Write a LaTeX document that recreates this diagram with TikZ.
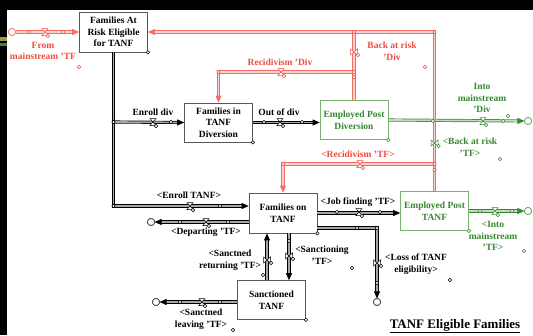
\documentclass[tikz,border=0pt]{standalone}
\usepackage{fontspec}
\setmainfont{Liberation Serif}
\usetikzlibrary{positioning,shapes.symbols,arrows.meta}
\definecolor{vred}{RGB}{240,75,65}
\definecolor{redpipe}{RGB}{245,110,100}
\definecolor{vgreen}{RGB}{55,135,50}
\definecolor{greenbox}{RGB}{120,180,110}
\definecolor{olivebar}{RGB}{160,150,70}
\tikzset{
  stock/.style={draw=black!65, line width=0.7pt, fill=white, align=center,
    minimum width=68pt, minimum height=39pt, inner sep=1pt,
    font=\bfseries\fontsize{9.5}{11.5}\selectfont},
  lbl/.style={align=center, inner sep=0pt, font=\bfseries\fontsize{9.5}{11.5}\selectfont},
  sink/.style={rectangle, rounded corners=1.8pt, draw, fill=white, line width=0.6pt,
    minimum size=6.5pt, inner sep=0pt},
  dot/.style={circle, draw, fill=white, line width=0.5pt, inner sep=0pt, minimum size=3.4pt},
  pipeK/.style={draw=black, line width=0.7pt, double=black!35, double distance=1.7pt},
  pipeR/.style={draw=redpipe, line width=0.7pt, double=vred!25, double distance=1.7pt},
  pipeG/.style={draw=vgreen, line width=0.7pt, double=vgreen!30, double distance=1.7pt},
  valveh/.pic={
    \draw[pic actions, fill=white, line width=0.5pt] (-3,-3.5) -- (3,-3.5) -- (-3,3.5) -- (3,3.5) -- cycle;
    \draw[pic actions, fill=white, line width=0.5pt] (3,4) circle[radius=1.8pt];
  },
  valvev/.pic={
    \draw[pic actions, fill=white, line width=0.5pt] (-3.5,-3) -- (-3.5,3) -- (3.5,-3) -- (3.5,3) -- cycle;
    \draw[pic actions, fill=white, line width=0.5pt] (4,3) circle[radius=1.8pt];
  }
}

\begin{document}
\begin{tikzpicture}[x=1pt,y=-1pt,>={Triangle[length=7pt,width=6pt]}]
    \useasboundingbox (0,0) rectangle (533,335);
    % Window frame
    \fill[black] (0,0) rectangle (533,10);
    \fill[black] (0,0) rectangle (7,335);
    \fill[olivebar] (0,37) rectangle (7,41);
    \fill[vgreen] (0,43) rectangle (7,46);

    % Stocks
    \node[stock, minimum height=40pt] (atrisk) at (113.5,32) {Families At\\Risk Eligible\\for TANF};
    \node[stock] (tanfdiv) at (218.5,122.5) {Families in\\TANF\\Diversion};
    \node[stock, draw=greenbox, text=vgreen] (empdiv) at (354,120) {Employed Post\\Diversion};
    \node[stock, minimum height=40pt] (ontanf) at (283,213) {Families on\\TANF};
    \node[stock, draw=greenbox, text=vgreen] (emptanf) at (434.5,211) {Employed Post\\TANF};
    \node[stock] (sanct) at (271.5,300) {Sanctioned\\TANF};

    % Sources and sinks
    \node[sink, draw=vred] (srcmain) at (12,32) {};
    \node[sink, draw=vgreen] (sinkdiv) at (528,121) {};
    \node[sink, draw=vgreen] (sinktanf) at (528,211) {};
    \node[sink] (sinkdep) at (151,222) {};
    \node[sink] (sinkloss) at (377,302) {};
    \node[sink] (sinklev) at (156,302) {};

    % Pipe junctions
    \coordinate (jtop) at (empdiv.north |- atrisk.east);
    \coordinate (jrdiv) at (354,72);
    \coordinate (jrtanf) at (434.5,164);
    \coordinate (jenroll) at (113.5,122);

    % Red flows back to risk
    \draw[pipeR,->] (emptanf.north) |- (atrisk.east);
    \draw[pipeR] (empdiv.north) -- (jtop);
    \draw[pipeR,->] (jrdiv) -| (tanfdiv.north);
    \draw[pipeR,->] (jrtanf) -| (ontanf.north);
    \draw[pipeR,->] (srcmain) -- (atrisk.west);

    % Black flows
    \draw[pipeK,->] (atrisk.south) |- ([yshift=7pt]ontanf.west);
    \draw[pipeK,->] (jenroll) -- (tanfdiv.west);
    \draw[pipeK,->] (tanfdiv.east) -- (tanfdiv.east -| empdiv.west);
    \draw[pipeK,->] (ontanf.east) -- (ontanf.east -| emptanf.west);
    \draw[pipeK,->] ([yshift=-9pt]ontanf.west) -- (sinkdep);
    \draw[pipeK,->] ([yshift=-15pt]ontanf.east) -| (sinkloss);
    \draw[pipeK,->] ([xshift=6pt]ontanf.south) -- ([xshift=6pt]ontanf.south |- sanct.north);
    \draw[pipeK,->] ([xshift=-4.5pt]sanct.north) -- ([xshift=-4.5pt]sanct.north |- ontanf.south);
    \draw[pipeK,->] ([yshift=-2pt]sanct.west) -- (sinklev);

    % Green flows out to mainstream
    \draw[pipeG,->] (empdiv.east) -- (sinkdiv);
    \draw[pipeG,->] (emptanf.east) -- (sinktanf);

    % Small circles
    \foreach \p [count=\i] in {(29,32),(63,32),(434.5,32),(354,32),(354,72),(354,77),(218.5,72),
        (434.5,164),(434.5,170),(283,164),(79,67),(425,67)}
        \node[dot, draw=vred] (rd\i) at \p {};
    \foreach \p [count=\i] in {(433,121),(503,121),(508,116),(500,159),(524,251),(480,211),(512,211)}
        \node[dot, draw=vgreen] (gd\i) at \p {};
    \foreach \p [count=\i] in {(113.5,122),(113.5,206),(171,122),(220,206),(264,122),(302,122),
        (337,212),(380,212),(180,222),(228,222),(357,228),(377,228),(377,283),(289,241),
        (263,275),(180,302),(220,302),(352,268),(450,280),(233,330)}
        \node[dot] (kd\i) at \p {};
    \foreach \s/\c in {atrisk/black, tanfdiv/black, empdiv/vgreen, ontanf/black, emptanf/vgreen, sanct/black}
        \node[dot, draw=\c] (\s-c) at (\s.south east) {};

    % Valves
    \pic[draw=vred] (vmain) at (45,32) {valveh};
    \pic[draw=vred] (vbdiv) at (354,52) {valvev};
    \pic[draw=vred] (vrdiv) at (281,72) {valveh};
    \pic[draw=vred] (vrtanf) at (360,164) {valveh};
    \pic[draw=vgreen] (vbtanf) at (434.5,143) {valvev};
    \pic[draw=vgreen] (vidiv) at (483,121) {valveh};
    \pic[draw=vgreen] (vitanf) at (495,211) {valveh};
    \pic[draw=black] (venrd) at (153,122) {valveh};
    \pic[draw=black] (voutd) at (280,122) {valveh};
    \pic[draw=black] (venrt) at (190,206) {valveh};
    \pic[draw=black] (vdep) at (206,222) {valveh};
    \pic[draw=black] (vjob) at (359,212) {valveh};
    \pic[draw=black] (vloss) at (377,263) {valvev};
    \pic[draw=black] (vsanc) at (289,256) {valvev};
    \pic[draw=black] (vret) at (267,260) {valvev};
    \pic[draw=black] (vlev) at (202,302) {valveh};

    % Flow labels
    \node[lbl, text=vred] (lmain) at (43,51) {From\\mainstream 'TF};
    \node[lbl, text=vred] (lbdiv) at (392,51) {Back at risk\\'Div};
    \node[lbl, text=vred] (lrdiv) at (280,62) {Recidivism 'Div};
    \node[lbl, text=vred] (lrtanf) at (358,154) {<Recidivism 'TF>};
    \node[lbl, text=vgreen] (lbtanf) at (470,147) {<Back at risk\\'TF>};
    \node[lbl, text=vgreen] (lidiv) at (482,98) {Into\\mainstream\\'Div};
    \node[lbl, text=vgreen] (litanf) at (493,236) {<Into\\mainstream\\'TF>};
    \node[lbl] (lenrd) at (153,112) {Enroll div};
    \node[lbl] (loutd) at (279,112) {Out of div};
    \node[lbl] (lenrt) at (189,195) {<Enroll TANF>};
    \node[lbl] (ldep) at (206,232) {<Departing 'TF>};
    \node[lbl] (ljob) at (358,202) {<Job finding 'TF>};
    \node[lbl] (lsanc) at (322,255) {<Sanctioning\\'TF>};
    \node[lbl] (lret) at (230,260) {<Sanctned\\returning 'TF>};
    \node[lbl] (llev) at (201,319) {<Sanctned\\leaving 'TF>};
    \node[lbl] (lloss) at (416,264) {<Loss of TANF\\eligibility>};

    \node[font=\bfseries\fontsize{13}{15}\selectfont, inner sep=0pt] (title) at (455,326) {\underline{TANF Eligible Families}};
\end{tikzpicture}
\end{document}
